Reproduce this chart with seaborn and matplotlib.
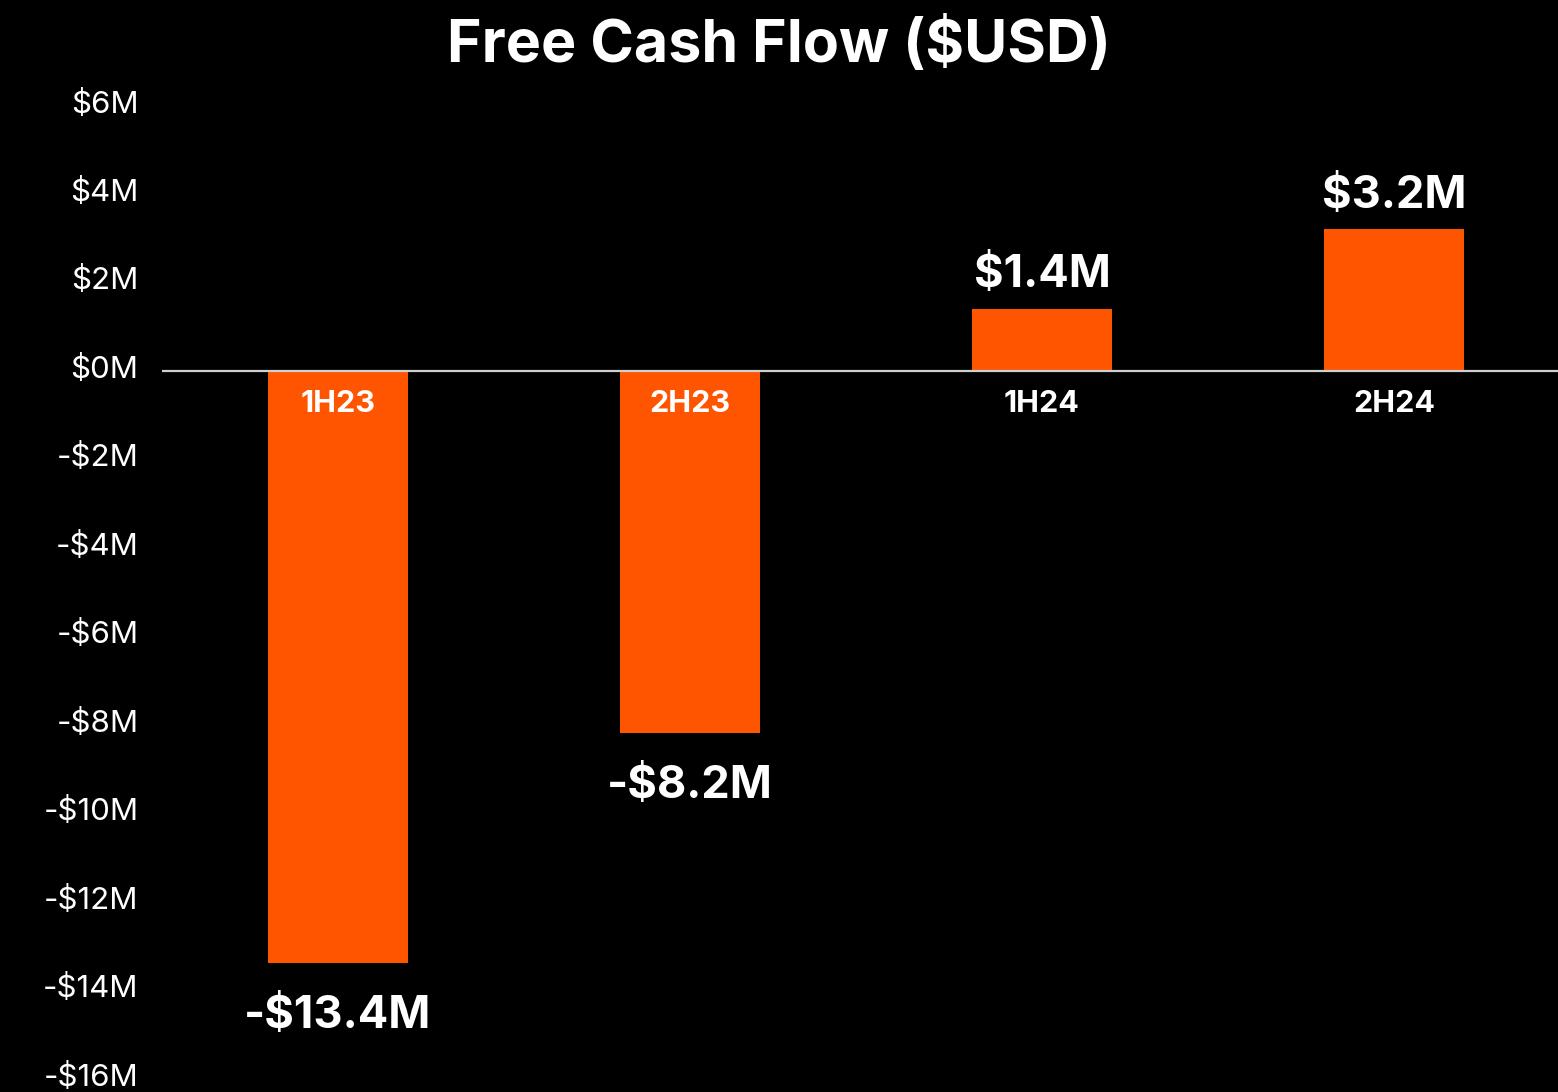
import matplotlib
matplotlib.use("Agg")
import matplotlib.pyplot as plt
import matplotlib.transforms as mtransforms
import seaborn as sns
import pandas as pd

categories = ["1H23", "2H23", "1H24", "2H24"]
values = [-13.4, -8.2, 1.4, 3.2]
value_labels = ["-$13.4M", "-$8.2M", "$1.4M", "$3.2M"]
yticks = [6, 4, 2, 0, -2, -4, -6, -8, -10, -12, -14, -16]
ytick_labels = ["$6M", "$4M", "$2M", "$0M", "-$2M", "-$4M", "-$6M", "-$8M",
                "-$10M", "-$12M", "-$14M", "-$16M"]

sns.set_theme(style="white")
plt.rcParams['font.family'] = ['Inter', 'DejaVu Sans']

BG = "black"
ORANGE = "#FF5500"

df = pd.DataFrame({"cat": categories, "val": values})

fig = plt.figure(figsize=(15.58, 10.92), dpi=100, facecolor=BG)
ax = fig.add_axes([162/1558, 0.0, 1 - 162/1558, (1092-80)/1092])
ax.set_facecolor(BG)

sns.barplot(data=df, x="cat", y="val", color=ORANGE, width=0.4,
            saturation=1, ax=ax, order=categories, linewidth=0,
            edgecolor=ORANGE)

ax.set_xlim(-0.5, 3.466)
ax.set_ylim(-16.31, 6.57)
ax.axhline(0, color="#d0d0d0", lw=1.6, zorder=3)

for s in ax.spines.values():
    s.set_visible(False)
ax.set_xticks([])
ax.set_xlabel("")
ax.set_ylabel("")
ax.set_yticks(yticks)
ax.set_yticklabels(ytick_labels)
ax.tick_params(axis="y", length=0, pad=17, labelsize=22.5, labelcolor="white")
shift = mtransforms.ScaledTranslation(0, 3 / 72, fig.dpi_scale_trans)
for t in ax.get_yticklabels():
    t.set_transform(t.get_transform() + shift)

for i, (v, lab) in enumerate(zip(values, value_labels)):
    off = 24 if v > 0 else -38
    ax.annotate(lab, xy=(i, v), xytext=(0, off), textcoords="offset points",
                ha="center", va="center", color="white", fontsize=32.5,
                fontweight="bold")
    ax.text(i, -0.76, categories[i], ha="center", va="center", color="white",
            fontsize=22, fontweight="bold", zorder=4)

fig.text(0.5, 1 - 45/1092, "Free Cash Flow ($USD)", ha="center", va="center",
         color="white", fontsize=42.5, fontweight="bold")

fig.savefig("out.png", dpi=100, facecolor=BG)
